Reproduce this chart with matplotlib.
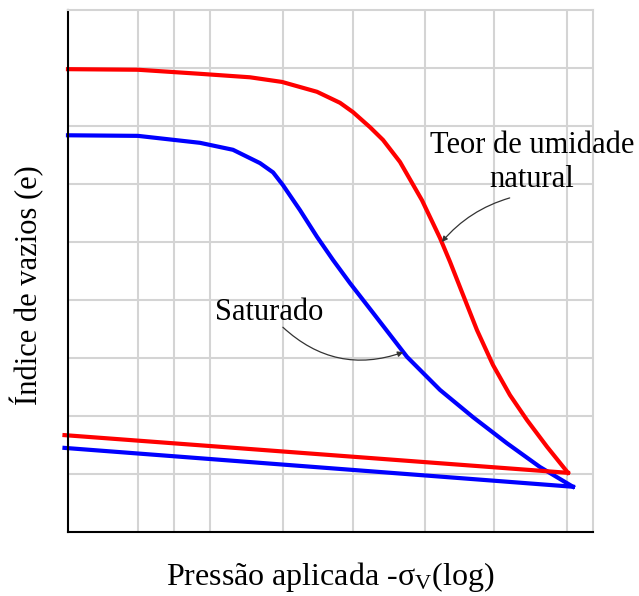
import matplotlib
matplotlib.use("Agg")
import matplotlib.pyplot as plt

plt.rcParams["font.family"] = ["Liberation Serif", "DejaVu Serif"]
plt.rcParams["mathtext.fontset"] = "custom"
plt.rcParams["mathtext.rm"] = "Liberation Serif"

# Data (x: log pressure in grid units, y: void ratio in grid units)
natX = [0.0, 1.0, 1.886, 2.6, 3.057, 3.557, 3.886, 4.071, 4.314, 4.5, 4.743,
        5.057, 5.314, 5.457, 5.643, 5.843, 6.071, 6.314, 6.557, 6.843, 7.143]
natY = [7.98, 7.97, 7.90, 7.84, 7.76, 7.59, 7.40, 7.24, 6.98, 6.76, 6.38,
        5.72, 5.07, 4.66, 4.09, 3.48, 2.88, 2.36, 1.93, 1.47, 1.02]
satX = [0.0, 1.0, 1.886, 2.357, 2.743, 2.93, 3.071, 3.314, 3.557, 3.786, 4.029,
        4.357, 4.843, 5.314, 5.786, 6.271, 6.743, 7.214]
satY = [6.84, 6.83, 6.71, 6.59, 6.36, 6.2, 5.98, 5.55, 5.09, 4.69, 4.29,
        3.78, 3.02, 2.45, 1.98, 1.53, 1.12, 0.78]
natUnloadX = [-0.05, 7.143]
natUnloadY = [1.67, 1.02]
satUnloadX = [-0.05, 7.214]
satUnloadY = [1.45, 0.78]

gridX = [1.0, 1.51, 2.03, 3.07, 4.07, 5.1, 6.09, 7.13]
gridY = [1, 2, 3, 4, 5, 6, 7, 8]

fig = plt.figure(figsize=(6.39, 5.96), dpi=100)
ax = fig.add_axes([0.1064, 0.1074, 0.8216, 0.8758])
ax.set_xlim(0, 7.5)
ax.set_ylim(0, 9)

gridColor = "#d4d4d4"
for gx in gridX:
    ax.axvline(gx, color=gridColor, lw=1.5, zorder=0)
for gy in gridY:
    ax.axhline(gy, color=gridColor, lw=1.5, zorder=0)

ax.plot(natX, natY, color="#ff0000", lw=3, solid_joinstyle="round", clip_on=False)
ax.plot(satX, satY, color="#0000ff", lw=3, solid_joinstyle="round", clip_on=False)
ax.plot(natUnloadX, natUnloadY, color="#ff0000", lw=3, clip_on=False)
ax.plot(satUnloadX, satUnloadY, color="#0000ff", lw=3, clip_on=False)

ax.set_xticks([])
ax.set_yticks([])
for side in ["top", "right"]:
    ax.spines[side].set_color(gridColor)
    ax.spines[side].set_linewidth(1.5)
for side in ["left", "bottom"]:
    ax.spines[side].set_color("black")
    ax.spines[side].set_linewidth(1.5)

ax.set_xlabel(r"Pressão aplicada -$\mathregular{\sigma_V}$(log)", fontsize=23, labelpad=20)
ax.set_ylabel("Índice de vazios (e)", fontsize=22)
ax.yaxis.set_label_coords(-0.045, 0.473)

arrowStyle = dict(arrowstyle="-|>", color="#333333", lw=0.9, mutation_scale=8,
                  shrinkA=0, shrinkB=0)

ax.text(6.63, 6.37, "Teor de umidade\nnatural", fontsize=22, ha="center", va="center",
        linespacing=1.2)
ax.annotate("", xy=(5.34, 5.0), xytext=(6.31, 5.76),
            arrowprops=dict(arrowStyle, connectionstyle="arc3,rad=0.15"))

ax.text(2.1, 3.78, "Saturado", fontsize=22, ha="left", va="center")
ax.annotate("", xy=(4.79, 3.10), xytext=(3.07, 3.53),
            arrowprops=dict(arrowStyle, connectionstyle="arc3,rad=0.3"))

fig.savefig("out.png", dpi=100)
